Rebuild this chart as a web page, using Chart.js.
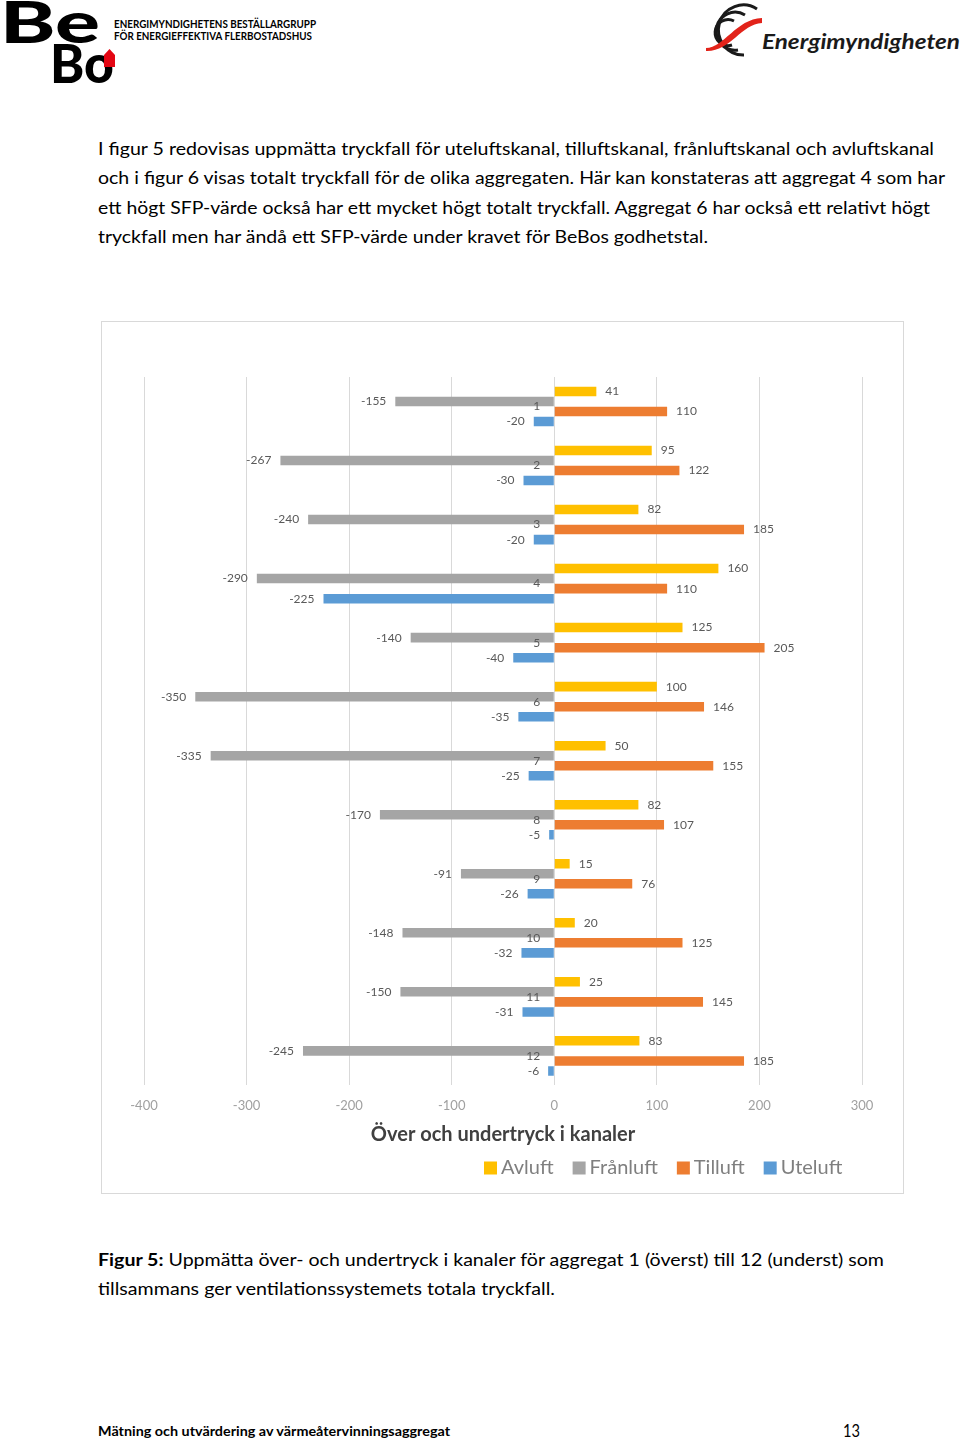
<!DOCTYPE html>
<html lang="sv">
<head>
<meta charset="utf-8">
<title>Figur 5 - Över och undertryck i kanaler</title>
<script src="https://cdn.jsdelivr.net/npm/chart.js@4.4.1/dist/chart.umd.min.js"></script>
<style>
    body { margin: 0; background: #fff; }
    #page { position: relative; width: 960px; height: 1442px; overflow: hidden; font-family: Lato, sans-serif; }
    #page svg { position: absolute; left: 0; top: 0; }
    .chart-box { position: absolute; left: 101px; top: 321px; width: 801px; height: 871px; border: 1px solid #d9d9d9; background: #fff; }
    .chart-box canvas { display: block; }
</style>
</head>
<body>
<div id="page">
    <svg width="960" height="1442" xmlns="http://www.w3.org/2000/svg" font-family="Lato, sans-serif">
        <!-- BeBo logo -->
        <text x="0" y="43" font-size="58" font-weight="900" textLength="100" lengthAdjust="spacingAndGlyphs">Be</text>
        <text x="50" y="83" font-size="54" font-weight="900" textLength="64" lengthAdjust="spacingAndGlyphs">Bo</text>
        <path d="M104 55 L109.5 49 L115 55 L115 67 L104 67 Z" fill="#e30613"/>
        <text x="114" y="28" font-size="10.5" font-weight="700" textLength="202" lengthAdjust="spacingAndGlyphs">ENERGIMYNDIGHETENS BESTÄLLARGRUPP</text>
        <text x="114" y="39.5" font-size="10.5" font-weight="700" textLength="198" lengthAdjust="spacingAndGlyphs">FÖR ENERGIEFFEKTIVA FLERBOSTADSHUS</text>

        <!-- Energimyndigheten logo -->
        <g fill="none" stroke="#1a1a1a" stroke-width="3">
            <path d="M757 9 A25 25 0 1 0 744 55"/>
            <path d="M745 15 A19 19 0 1 0 738 50"/>
            <path d="M734 21 A13 13 0 1 0 732 45"/>
        </g>
        <path d="M706 48 C724 48 736 19 762 18 L762 23 C741 24 730 52 706 51 Z" fill="#e2231a"/>
        <text x="762" y="48.5" font-size="21" font-weight="700" font-style="italic" textLength="198" lengthAdjust="spacingAndGlyphs" fill="#1a1a1a">Energimyndigheten</text>

        <!-- paragraph -->
        <g font-size="16.5" fill="#000">
            <text x="98" y="155" textLength="836" lengthAdjust="spacingAndGlyphs">I figur 5 redovisas uppmätta tryckfall för uteluftskanal, tilluftskanal, frånluftskanal och avluftskanal</text>
            <text x="98" y="184.3" textLength="847" lengthAdjust="spacingAndGlyphs">och i figur 6 visas totalt tryckfall för de olika aggregaten. Här kan konstateras att aggregat 4 som har</text>
            <text x="98" y="213.6" textLength="832" lengthAdjust="spacingAndGlyphs">ett högt SFP-värde också har ett mycket högt totalt tryckfall. Aggregat 6 har också ett relativt högt</text>
            <text x="98" y="243" textLength="610" lengthAdjust="spacingAndGlyphs">tryckfall men har ändå ett SFP-värde under kravet för BeBos godhetstal.</text>
        </g>

        <!-- caption -->
        <g font-size="16.5" fill="#000">
            <text x="98" y="1266" textLength="786" lengthAdjust="spacingAndGlyphs"><tspan font-weight="700">Figur 5:</tspan> Uppmätta över- och undertryck i kanaler för aggregat 1 (överst) till 12 (underst) som</text>
            <text x="98" y="1295" textLength="457" lengthAdjust="spacingAndGlyphs">tillsammans ger ventilationssystemets totala tryckfall.</text>
        </g>

        <!-- footer -->
        <text x="98" y="1436" font-size="12.5" font-weight="700" textLength="352" lengthAdjust="spacingAndGlyphs">Mätning och utvärdering av värmeåtervinningsaggregat</text>
        <text x="843" y="1437" font-size="17" textLength="17" lengthAdjust="spacingAndGlyphs">13</text>
    </svg>

    <div class="chart-box">
        <canvas id="barChart" width="801" height="871"></canvas>
    </div>
</div>

<script>
// aggregat 1 (överst) .. 12 (underst)
const categories = ['1', '2', '3', '4', '5', '6', '7', '8', '9', '10', '11', '12'];
const avluft   = [41, 95, 82, 160, 125, 100, 50, 82, 15, 20, 25, 83];
const franluft = [-155, -267, -240, -290, -140, -350, -335, -170, -91, -148, -150, -245];
const tilluft  = [110, 122, 185, 110, 205, 146, 155, 107, 76, 125, 145, 185];
const uteluft  = [-20, -30, -20, -225, -40, -35, -25, -5, -26, -32, -31, -6];
const xTicks   = [-400, -300, -200, -100, 0, 100, 200, 300];

const seriesNames = ['Avluft', 'Frånluft', 'Tilluft', 'Uteluft'];
const seriesColors = ['#FFC000', '#A5A5A5', '#ED7D31', '#5B9BD5'];

// value labels at bar ends, aggregat numbers next to zero line
const barLabels = {
    id: 'barLabels',
    afterDatasetsDraw(chart) {
        const ctx = chart.ctx;
        ctx.save();
        ctx.font = '12px Lato';
        ctx.fillStyle = '#595959';
        ctx.textBaseline = 'middle';
        chart.data.datasets.forEach((ds, i) => {
            chart.getDatasetMeta(i).data.forEach((bar, j) => {
                const v = ds.data[j];
                ctx.textAlign = v < 0 ? 'right' : 'left';
                ctx.fillText(String(v), bar.x + (v < 0 ? -9 : 9), bar.y);
            });
        });
        const x0 = chart.scales.x.getPixelForValue(0);
        ctx.textAlign = 'right';
        chart.data.labels.forEach((lab, j) => {
            ctx.fillText(lab, x0 - 14, chart.scales.y.getPixelForValue(j));
        });
        ctx.restore();
    },
    afterDraw(chart) {
        // legend row under the axis title
        const ctx = chart.ctx;
        ctx.save();
        ctx.font = '20px Lato';
        ctx.textBaseline = 'middle';
        ctx.textAlign = 'left';
        let x = 382;
        const y = 846;
        chart.data.datasets.forEach(ds => {
            ctx.fillStyle = ds.backgroundColor;
            ctx.fillRect(x, y - 6.5, 13, 13);
            ctx.fillStyle = '#7f7f7f';
            ctx.fillText(ds.label, x + 17, y);
            x += 17 + ctx.measureText(ds.label).width + 19;
        });
        ctx.restore();
    }
};

function buildChart() {
    const series = [avluft, franluft, tilluft, uteluft];
    const ctx = document.getElementById('barChart').getContext('2d');
    new Chart(ctx, {
        type: 'bar',
        data: {
            labels: categories,
            datasets: series.map((values, i) => ({
                label: seriesNames[i],
                data: values,
                backgroundColor: seriesColors[i],
                borderWidth: 0,
                barPercentage: 0.95,
                categoryPercentage: 0.68
            }))
        },
        options: {
            indexAxis: 'y',
            responsive: false,
            animation: false,
            devicePixelRatio: 1,
            layout: {
                padding: { left: 42, right: 41, top: 55, bottom: 50 }
            },
            scales: {
                x: {
                    min: xTicks[0],
                    max: xTicks[xTicks.length - 1],
                    ticks: {
                        stepSize: 100,
                        padding: 13,
                        color: '#a0a0a0',
                        font: { family: 'Lato', size: 13 }
                    },
                    grid: { color: '#d9d9d9', lineWidth: 1, drawTicks: false },
                    border: { display: false },
                    title: {
                        display: true,
                        text: 'Över och undertryck i kanaler',
                        color: '#404040',
                        font: { family: 'Lato', size: 20, weight: 'bold', lineHeight: 0.8 },
                        padding: { top: 0, bottom: 0 }
                    }
                },
                y: {
                    display: false,
                    grid: { display: false }
                }
            },
            plugins: {
                legend: { display: false },
                tooltip: { enabled: false }
            }
        },
        plugins: [barLabels]
    });
}

document.addEventListener('DOMContentLoaded', function () {
    Promise.all([
        document.fonts.load('12px Lato'),
        document.fonts.load('bold 20px Lato'),
        document.fonts.load('20px Lato')
    ]).then(buildChart, buildChart);
});
</script>
</body>
</html>
